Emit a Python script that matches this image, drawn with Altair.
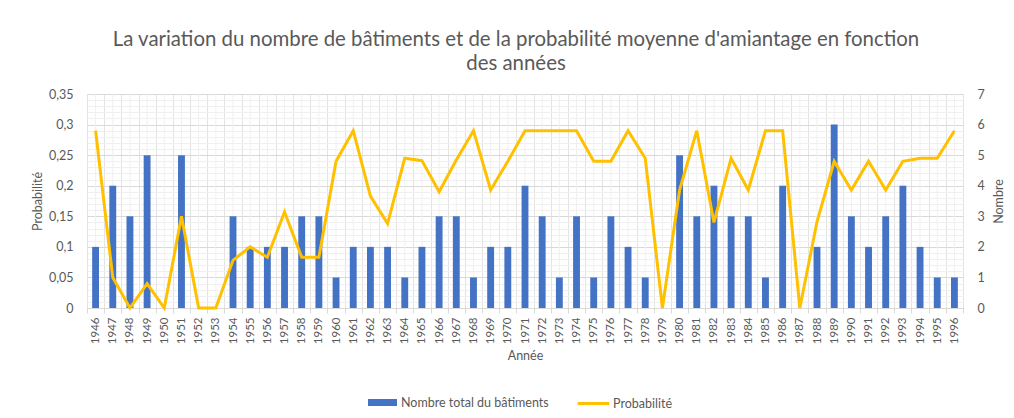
import altair as alt
import pandas as pd

years = list(range(1946, 1997))
counts = [2, 4, 3, 5, 0, 5, 0, 0, 3, 2, 2, 2, 3, 3, 1, 2, 2, 2, 1, 2,
          3, 3, 1, 2, 2, 4, 3, 1, 3, 1, 3, 2, 1, 0, 5, 3, 4, 3, 3, 1,
          4, 0, 2, 6, 3, 2, 3, 4, 2, 1, 1]
probs = [0.29, 0.05, 0.0, 0.04, 0.0, 0.15, 0.0, 0.0, 0.078, 0.1, 0.083, 0.157,
         0.083, 0.083, 0.24, 0.29, 0.183, 0.138, 0.245, 0.241, 0.19, 0.242,
         0.29, 0.193, 0.24, 0.29, 0.29, 0.29, 0.29, 0.24, 0.24, 0.29, 0.245,
         0.0, 0.193, 0.29, 0.14, 0.245, 0.193, 0.29, 0.29, 0.0, 0.141, 0.24,
         0.193, 0.24, 0.193, 0.24, 0.245, 0.245, 0.29]
bar_name = "Nombre total du bâtiments"
line_name = "Probabilité"
left_ticks = [i / 100 for i in range(36)]
right_ticks = list(range(8))

df = pd.DataFrame({
    "year": [str(y) for y in years],
    "count": counts,
    "prob": probs,
    "s_bar": bar_name,
    "s_line": line_name,
})

FONT = "Lato"
GREY = "#595959"

xscale = alt.Scale(paddingInner=0, paddingOuter=0)

xaxis = alt.Axis(
    title="Année",
    labelAngle=270,
    labelFontSize=11.5,
    labelColor=GREY,
    labelFont=FONT,
    titleFont=FONT,
    titleFontSize=12.5,
    titleFontWeight="normal",
    titleColor=GREY,
    titlePadding=6,
    tickBand="extent",
    ticks=True,
    tickSize=5,
    tickColor="#D9D9D9",
    domainColor="#D9D9D9",
    grid=True,
    gridColor="#E3E3E3",
    labelPadding=4,
)

xenc = alt.X("year:N", scale=xscale, sort=None, axis=xaxis)

base = alt.Chart(df)

centers = base.mark_rule(color="#F0F0F0", strokeWidth=1).encode(x=xenc)

bars = base.mark_bar(width=alt.RelativeBandSize(0.4)).encode(
    x=xenc,
    y=alt.Y(
        "count:Q",
        scale=alt.Scale(domain=[0, 7], nice=False),
        axis=alt.Axis(
            orient="right",
            title="Nombre",
            values=right_ticks,
            grid=False,
            domain=False,
            ticks=False,
            labelColor=GREY,
            labelFont=FONT,
            labelFontSize=12.5,
            labelPadding=14,
            titleFont=FONT,
            titleFontSize=12.5,
            titleFontWeight="normal",
            titleColor=GREY,
            titleAngle=270,
            titleBaseline="top",
            titlePadding=8,
        ),
    ),
    fill=alt.Fill(
        "s_bar:N",
        scale=alt.Scale(domain=[bar_name], range=["#4472C4"]),
        legend=alt.Legend(
            title=None,
            orient="none",
            legendX=280,
            legendY=293,
            symbolType="M-1,-0.24H1V0.24H-1Z",
            symbolSize=841,
            labelFont=FONT,
            labelFontSize=12.5,
            labelColor=GREY,
            labelOffset=3,
            padding=0,
        ),
    ),
)

line = base.mark_line(strokeWidth=3).encode(
    x=xenc,
    y=alt.Y(
        "prob:Q",
        scale=alt.Scale(domain=[0, 0.35], nice=False),
        axis=alt.Axis(
            orient="left",
            title="Probabilité",
            values=left_ticks,
            labelExpr="round(datum.value*100) % 5 === 0 ? replace(format(datum.value, '.2~f'), '.', ',') : ''",
            grid=True,
            gridColor={
                "condition": {"test": "round(datum.value*100) % 5 === 0", "value": "#D9D9D9"},
                "value": "#F0F0F0",
            },
            domain=False,
            ticks=False,
            labelColor=GREY,
            labelFont=FONT,
            labelFontSize=12.5,
            labelPadding=14,
            titleFont=FONT,
            titleFontSize=12.5,
            titleFontWeight="normal",
            titleColor=GREY,
            titlePadding=4,
        ),
    ),
    stroke=alt.Stroke(
        "s_line:N",
        scale=alt.Scale(domain=[line_name], range=["#FFC000"]),
        legend=alt.Legend(
            title=None,
            orient="none",
            legendX=489,
            legendY=292,
            symbolType="stroke",
            symbolSize=1000,
            symbolStrokeWidth=3,
            labelFont=FONT,
            labelFontSize=12.5,
            labelColor=GREY,
            labelOffset=2,
            padding=0,
        ),
    ),
)

chart = (
    alt.layer(centers, bars, line)
    .resolve_scale(y="independent")
    .properties(
        width=876,
        height=214,
        autosize=alt.AutoSizeParams(type="none"),
        padding={"left": 79, "top": 86, "right": 43, "bottom": 102},
        title=alt.TitleParams(
            text=[
                "La variation du nombre de bâtiments et de la probabilité moyenne d'amiantage en fonction",
                "des années",
            ],
            anchor="middle",
            font=FONT,
            fontSize=20.4,
            fontWeight="normal",
            color=GREY,
            lineHeight=24,
            offset=14,
            dx=-9,
        ),
    )
    .configure_view(stroke=None)
    .configure(background="white")
)

chart.save("out.html", embed_options={"renderer": "svg", "actions": False})
